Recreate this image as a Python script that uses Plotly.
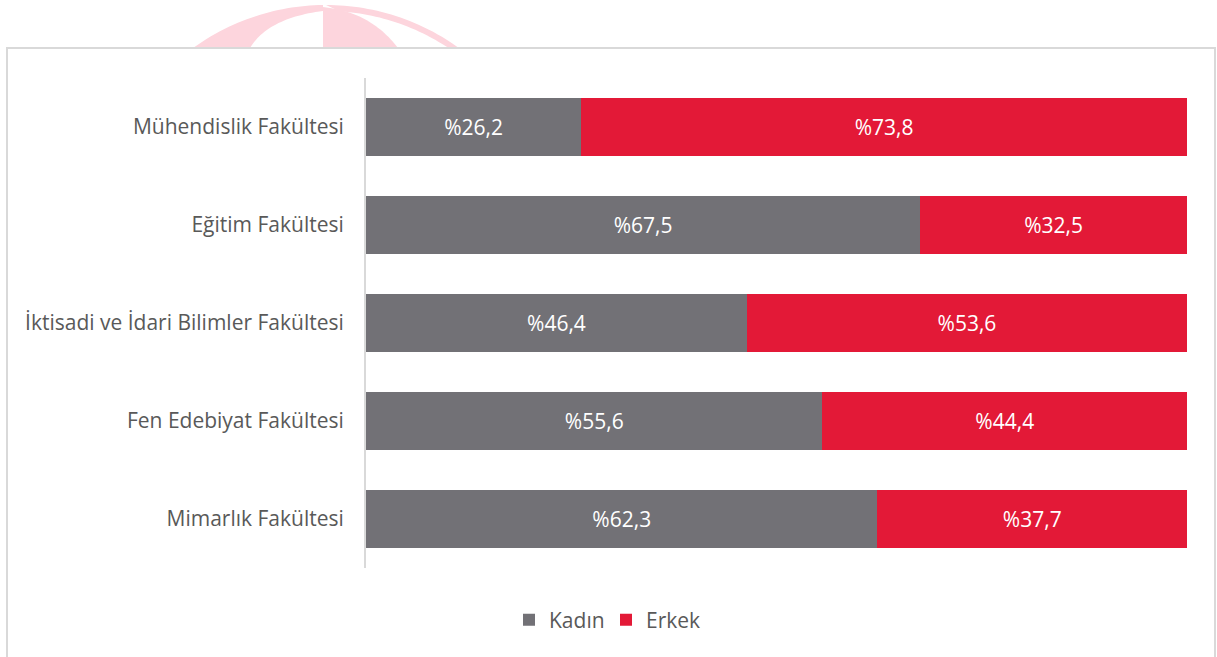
import numpy as np
import plotly.graph_objects as go

categories = ["Mühendislik Fakültesi", "Eğitim Fakültesi", "İktisadi ve İdari Bilimler Fakültesi",
              "Fen Edebiyat Fakültesi", "Mimarlık Fakültesi"]
kadin = [26.2, 67.5, 46.4, 55.6, 62.3]
erkek = [73.8, 32.5, 53.6, 44.4, 37.7]
series_names = ["Kadın", "Erkek"]
colors = ["#727176", "#E31937"]

W, H = 1217, 657
L, R, T, B = 366, 30, 78, 89
PW, PH = W - L - R, H - T - B


def px(x, y):
    return (x - L) / PW, (H - B - y) / PH


def path_from(points):
    s = ""
    for i, (x, y) in enumerate(points):
        u, v = px(x, y)
        s += ("M" if i == 0 else "L") + f"{u:.5f},{v:.5f} "
    return s + "Z"


def fmt(v):
    return "%" + f"{v:.1f}".replace(".", ",")


fig = go.Figure()
for name, vals, col in zip(series_names, [kadin, erkek], colors):
    fig.add_trace(go.Bar(
        y=categories, x=vals, name=name, orientation="h",
        marker=dict(color=col, line=dict(width=0)),
        text=[fmt(v) for v in vals], textposition="inside",
        insidetextanchor="middle",
        textfont=dict(color="white", size=21, family="Open Sans"),
        hoverinfo="skip",
    ))

# decorative watermark (pink globe arcs above the chart box)
cx, cy, r0 = 326, 232, 227
pink = "#FDD5DD"
t = np.linspace(0, 1, 30)
outer = [(x, cy - np.sqrt(r0**2 - (x - cx)**2)) for x in np.linspace(193, 323, 30)]
inner = [((1-s)**2*323 + 2*(1-s)*s*268 + s**2*250, (1-s)**2*11 + 2*(1-s)*s*18 + s**2*48) for s in t]
shapes = [dict(type="path", xref="paper", yref="paper", path=path_from(outer + inner),
               fillcolor=pink, line=dict(width=0), layer="below")]
lune = [(323, 7), (323, 48), (398, 48)] + [((1-s)**2*398 + 2*(1-s)*s*372 + s**2*330,
                                          (1-s)**2*48 + 2*(1-s)*s*14 + s**2*8) for s in t]
shapes.append(dict(type="path", xref="paper", yref="paper", path=path_from(lune),
                   fillcolor=pink, line=dict(width=0), layer="below"))
ring_out = [(x, cy - np.sqrt(r0**2 - (x - cx)**2)) for x in np.linspace(326, 461, 30)]
r1 = 221
ring_in = [(x, cy - np.sqrt(r1**2 - (x - cx)**2)) for x in np.linspace(455, 340, 30)]
shapes.append(dict(type="path", xref="paper", yref="paper", path=path_from(ring_out + ring_in),
                   fillcolor=pink, line=dict(width=0), layer="below"))
# white chart box with light border
x0, y0 = px(7, 48)
x1, y1 = px(1215, 662)
shapes.append(dict(type="rect", xref="paper", yref="paper", x0=x0, y0=y1, x1=x1, y1=y0,
                   fillcolor="white", line=dict(color="#D9D9D9", width=2), layer="below"))

fig.update_layout(
    width=W, height=H,
    margin=dict(l=L, r=R, t=T, b=B, autoexpand=False),
    barmode="stack", bargap=0.41,
    paper_bgcolor="white", plot_bgcolor="rgba(0,0,0,0)",
    font=dict(family="Open Sans", color="#595959", size=21),
    xaxis=dict(range=[0, 100], visible=False, fixedrange=True),
    yaxis=dict(autorange="reversed", showline=True, linecolor="#D9D9D9", linewidth=2,
               showgrid=False, ticks="", ticklabelstandoff=16, fixedrange=True,
               tickfont=dict(size=21, color="#595959", family="Open Sans")),
    legend=dict(orientation="h", x=px(606, 0)[0], xanchor="center",
                y=px(0, 620)[1], yanchor="middle", traceorder="normal",
                font=dict(size=21, color="#595959"), itemwidth=30,
                entrywidth=52, entrywidthmode="pixels",
                tracegroupgap=0),
    shapes=shapes,
    showlegend=True,
)
fig.write_html("out.html", config={"displayModeBar": False},
               post_script="document.body.style.margin='0px';")
